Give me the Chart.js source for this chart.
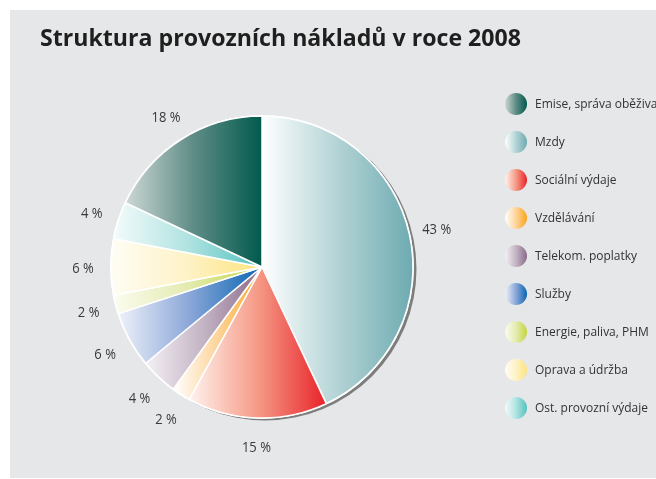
<!DOCTYPE html>
<html>
<head>
<meta charset="utf-8">
<script src="https://cdn.jsdelivr.net/npm/chart.js@4"></script>
<style>
  html, body { margin: 0; padding: 0; background: #fff; }
  canvas { display: block; }
</style>
</head>
<body>
<canvas id="c" width="656" height="479"></canvas>
<script>
const title = "Struktura provozních nákladů v roce 2008";
const categories = ["Emise, správa oběživa", "Mzdy", "Sociální výdaje", "Vzdělávání", "Telekom. poplatky", "Služby", "Energie, paliva, PHM", "Oprava a údržba", "Ost. provozní výdaje"];
// slice order on the pie, clockwise from 12 o'clock
const sliceOrder = [1, 2, 3, 4, 5, 6, 7, 8, 0];
const values = [18, 43, 15, 2, 4, 6, 2, 6, 4];
const labelsText = ["18 %", "43 %", "15 %", "2 %", "4 %", "6 %", "2 %", "6 %", "4 %"];
const colorsEnd = ["#005a4d", "#6dabb1", "#e8232a", "#f9a51b", "#8a6b8b", "#0866b3", "#c3d63c", "#fde47f", "#52c2bf"];
const colorsMid = ["#5f8c86", "#b3d3d5", "#f59a86", "#fdd49a", "#c3b3c4", "#8aa6d8", "#e3ebb0", "#fef2c6", "#b0e3e1"];
const colorsStart = ["#cdd8d5", "#ffffff", "#fff3ee", "#ffffff", "#f4f0f5", "#eef1fa", "#fbfcef", "#fffdf5", "#f3fbfb"];

const FONT = "'Open Sans', 'Roboto', sans-serif";

const pieLabels = sliceOrder.map(i => categories[i]);
const pieValues = sliceOrder.map(i => values[i]);
const pieText = sliceOrder.map(i => labelsText[i]);
const pieEnd = sliceOrder.map(i => colorsEnd[i]);
const pieMid = sliceOrder.map(i => colorsMid[i]);
const pieStart = sliceOrder.map(i => colorsStart[i]);

function narrowText(ctx, text, x, y, sx, align) {
  ctx.save();
  const w = ctx.measureText(text).width * sx;
  let x0 = x;
  if (align === 'center') x0 = x - w / 2;
  ctx.translate(x0, y);
  ctx.scale(sx, 1);
  ctx.textAlign = 'left';
  ctx.fillText(text, 0, 0);
  ctx.restore();
}

const deco = {
  id: 'deco',
  beforeDraw(chart) {
    const ctx = chart.ctx;
    ctx.save();
    ctx.fillStyle = '#ffffff';
    ctx.fillRect(0, 0, chart.width, chart.height);
    ctx.fillStyle = '#e6e7e8';
    ctx.fillRect(10, 10, chart.width - 10, 468);
    ctx.fillStyle = '#1f1f1f';
    ctx.font = "bold 23px 'Open Sans', 'Liberation Sans', sans-serif";
    ctx.textBaseline = 'alphabetic';
    ctx.textAlign = 'left';
    const w = ctx.measureText(title).width;
    const target = 481;
    ctx.translate(40, 46);
    ctx.scale(target / w, 1);
    ctx.fillText(title, 0, 0);
    ctx.restore();
  },
  beforeDatasetsDraw(chart) {
    const ctx = chart.ctx;
    const meta = chart.getDatasetMeta(0);
    const arcs = meta.data;
    if (!arcs.length) return;
    const a0 = arcs[0];
    const cx = a0.x, cy = a0.y, r = a0.outerRadius;
    ctx.save();
    ctx.fillStyle = '#7d7d7d';
    ctx.beginPath();
    ctx.arc(cx + 3, cy + 2, r + 0.5, 0, Math.PI * 2);
    ctx.fill();
    ctx.fillStyle = '#ffffff';
    ctx.beginPath();
    ctx.arc(cx, cy, r + 1, 0, Math.PI * 2);
    ctx.fill();
    ctx.restore();
    arcs.forEach((arc, i) => {
      const s = arc.startAngle, e = arc.endAngle;
      const xs = [arc.x, arc.x + r * Math.cos(s), arc.x + r * Math.cos(e)];
      for (let k = -3; k <= 5; k++) {
        const a = k * Math.PI;
        if (a > s && a < e) xs.push(arc.x + r * Math.cos(a));
      }
      const x0 = Math.min(...xs), x1 = Math.max(...xs);
      const g = ctx.createLinearGradient(x0, 0, x1, 0);
      g.addColorStop(0, pieStart[i]);
      g.addColorStop(0.5, pieMid[i]);
      g.addColorStop(1, pieEnd[i]);
      arc.options.backgroundColor = g;
    });
  },
  afterDatasetsDraw(chart) {
    const ctx = chart.ctx;
    const meta = chart.getDatasetMeta(0);
    ctx.save();
    ctx.fillStyle = '#3a3a3a';
    ctx.textBaseline = 'middle';
    ctx.font = "14px " + FONT;
    const sl = 29 / ctx.measureText("43 %").width;
    meta.data.forEach((arc, i) => {
      const m = (arc.startAngle + arc.endAngle) / 2;
      const rr = arc.outerRadius + 28;
      narrowText(ctx, pieText[i], arc.x + rr * Math.cos(m), arc.y + rr * Math.sin(m) + 2, sl, 'center');
    });
    // legend
    ctx.font = "13.5px " + FONT;
    const sx = 113 / ctx.measureText("Ost. provozní výdaje").width;
    categories.forEach((name, i) => {
      const lx = 516, ly = 104 + 38 * i, lr = 11;
      const g = ctx.createLinearGradient(lx - lr, 0, lx + lr, 0);
      g.addColorStop(0, colorsStart[i]);
      g.addColorStop(0.5, colorsMid[i]);
      g.addColorStop(1, colorsEnd[i]);
      ctx.fillStyle = g;
      ctx.beginPath();
      ctx.arc(lx, ly, lr, 0, Math.PI * 2);
      ctx.fill();
      ctx.fillStyle = '#333333';
      narrowText(ctx, name, 535, ly, sx, 'left');
    });
    ctx.restore();
  }
};

new Chart(document.getElementById('c'), {
  type: 'pie',
  data: {
    labels: pieLabels,
    datasets: [{
      data: pieValues,
      backgroundColor: pieEnd,
      borderColor: '#ffffff',
      borderWidth: 1.5
    }]
  },
  options: {
    responsive: false,
    animation: false,
    radius: 151,
    layout: { padding: { left: 111, top: 116, right: 243, bottom: 61 } },
    plugins: {
      legend: { display: false },
      tooltip: { enabled: false },
      title: { display: false }
    }
  },
  plugins: [deco]
});
</script>
</body>
</html>
